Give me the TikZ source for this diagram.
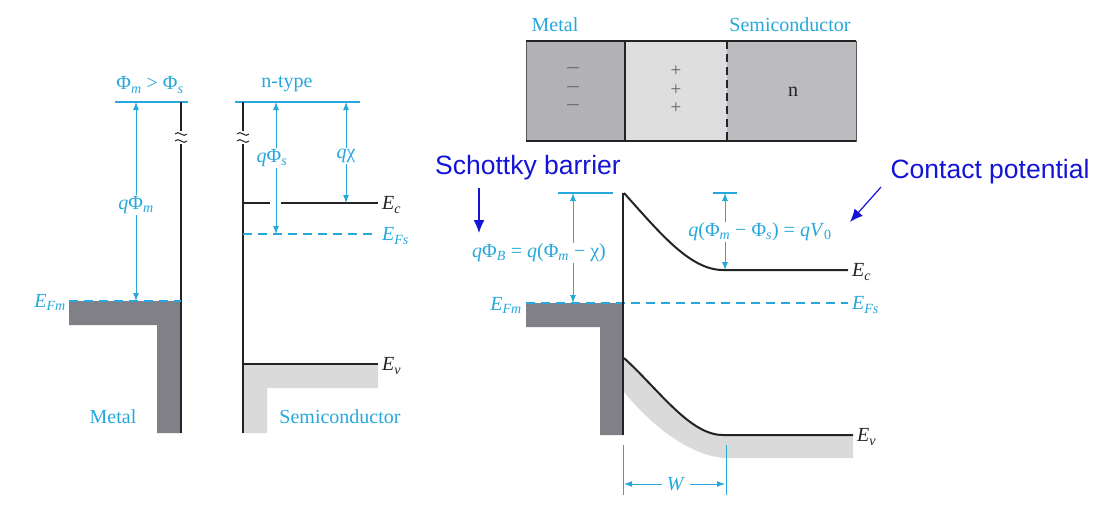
\documentclass[tikz,border=0pt]{standalone}
\usepackage{graphicx}
\usepackage{fontspec}
\setmainfont{Liberation Serif}
\newfontfamily\arialf{Liberation Sans}
\usetikzlibrary{arrows.meta}
\definecolor{cy}{RGB}{38,168,220}
\definecolor{mgray}{RGB}{128,128,134}
\definecolor{sgray}{RGB}{218,218,218}
\definecolor{boxm}{RGB}{178,178,182}
\definecolor{boxd}{RGB}{222,222,222}
\definecolor{boxn}{RGB}{188,188,192}
\definecolor{annb}{RGB}{20,20,215}
\definecolor{lin}{RGB}{35,35,35}
\newcommand{\sbs}[1]{\textsubscript{\textit{#1}}}
\begin{document}
\begin{tikzpicture}[x=1pt,y=-1pt,
 lbl/.style={text=cy,font=\fontsize{20}{24}\selectfont,inner sep=1pt},
 lblw/.style={lbl,fill=white},
 lblk/.style={text=lin,font=\fontsize{20}{24}\selectfont,inner sep=1pt},
 sign/.style={text=gray!75!black,font=\fontsize{19}{22}\selectfont,inner sep=0pt},
 ann/.style={text=annb,font=\arialf\fontsize{26.5}{30}\selectfont,inner sep=0pt},
 lev/.style={cy,line width=1.3pt},
 dim/.style={cy,line width=1pt,{Latex[length=8pt,width=6pt]}-{Latex[length=8pt,width=6pt]}},
 dimone/.style={cy,line width=1pt,-{Latex[length=8pt,width=6pt]}},
 efl/.style={cy,line width=1.3pt,dash pattern=on 9pt off 6pt},
 band/.style={lin,line width=2pt},
 wall/.style={lin,line width=1.2pt},
 annarrow/.style={annb,line width=1.2pt,-{Latex[length=13pt,width=11pt]}},
 brk/.style={lin,line width=1pt},
]
\useasboundingbox (0,0) rectangle (1115,504);

% ================= LEFT: separated metal =================
\fill[mgray] (69,301) -- (181,301) -- (181,433) -- (157,433) -- (157,325) -- (69,325) -- cycle;
\draw[lev] (115,102) -- (188,102);
\node[lbl] (phicmp) at (150,85) {Φ\sbs{m} > Φ\sbs{s}};
\draw[wall] (181,102) -- (181,131);
\draw[wall] (181,144) -- (181,433);
\draw[brk] (175,134) .. controls (178,129) and (184,139) .. (187,134);
\draw[brk] (175,141) .. controls (178,136) and (184,146) .. (187,141);
\coordinate (mvac) at (136,102);
\coordinate (mfermi) at (136,301);
\draw[dim] (mvac) -- (mfermi);
\node[lblw] (qphim) at (136,205) {\textit{q}Φ\sbs{m}};
\draw[efl] (69,301) -- (181,301);
\node[lbl,anchor=east] (efm1) at (67,302) {\textit{E}\sbs{Fm}};
\node[lbl] (metal1) at (113,417) {Metal};

% ================= LEFT: separated semiconductor =================
\fill[sgray] (243,364) -- (378,364) -- (378,388) -- (267,388) -- (267,433) -- (243,433) -- cycle;
\draw[lev] (235,102) -- (360,102);
\node[lbl] (ntype) at (287,84) {n-type};
\draw[wall] (243,102) -- (243,131);
\draw[wall] (243,144) -- (243,433);
\draw[brk] (237,134) .. controls (240,129) and (246,139) .. (249,134);
\draw[brk] (237,141) .. controls (240,136) and (246,146) .. (249,141);
\draw[band] (243,203) -- (270,203);
\draw[band] (281,203) -- (378,203);
\node[lblk,anchor=west] (ec1) at (381,205) {\textit{E}\sbs{c}};
\draw[efl] (243,234) -- (378,234);
\node[lbl,anchor=west] (efs1) at (381,236) {\textit{E}\sbs{Fs}};
\coordinate (svac1) at (276,102);
\coordinate (sfermi) at (276,234);
\draw[dim] (svac1) -- (sfermi);
\node[lblw] (qphis) at (272,158) {\textit{q}Φ\sbs{s}};
\coordinate (svac2) at (346,102);
\coordinate (sec) at (346,203);
\draw[dim] (svac2) -- (sec);
\node[lblw] (qchi) at (346,156) {\textit{q}χ};
\draw[band] (243,364) -- (378,364);
\node[lblk,anchor=west] (ev1) at (381,366) {\textit{E}\sbs{v}};
\node[lbl] (semi1) at (340,417) {Semiconductor};

% ================= RIGHT TOP: junction box =================
\fill[boxm] (526,41) rectangle (625,141);
\fill[boxd] (625,41) rectangle (727,141);
\fill[boxn] (727,41) rectangle (856,141);
\draw[gray!70!black,line width=1pt] (526,41) rectangle (856,141);
\draw[lin,line width=1.8pt] (526,41) -- (856,41);
\draw[lin,line width=1.8pt] (526,141) -- (856,141);
\draw[lin,line width=1.6pt] (625,41) -- (625,141);
\draw[lin,line width=1.6pt,dash pattern=on 8pt off 5pt] (727,41) -- (727,141);
\node[lbl] (metal2) at (555,25) {Metal};
\node[lbl] (semi2) at (790,25) {Semiconductor};
\foreach \yy [count=\i] in {71,90,108} {
  \node[sign] (minus\i) at (573,\yy) {\scalebox{1.35}[1]{−}};
  \node[sign] (plus\i) at (676,\yy) {+};
}
\node[lblk] (nlab) at (793,92) {n};

% ================= RIGHT: band diagram in contact =================
\fill[mgray] (526,303) -- (623,303) -- (623,435) -- (600,435) -- (600,327) -- (526,327) -- cycle;
\fill[sgray] (624,358) .. controls (660,391) and (690,435) .. (723,435) -- (853,435) -- (853,458) -- (728,458)
   .. controls (695,458) and (655,430) .. (624,392) -- cycle;
\draw[efl] (526,303) -- (848,303);
\node[lbl,anchor=east] (efm2) at (523,305) {\textit{E}\sbs{Fm}};
\node[lbl,anchor=west] (efs2) at (851,305) {\textit{E}\sbs{Fs}};
\draw[wall] (623,193) -- (623,435);
\draw[band] (624,193) .. controls (660,233) and (690,270) .. (723,270) -- (848,270);
\node[lblk,anchor=west] (ec2) at (851,272) {\textit{E}\sbs{c}};
\draw[band] (624,358) .. controls (660,391) and (690,435) .. (723,435) -- (853,435);
\node[lblk,anchor=west] (ev2) at (856,437) {\textit{E}\sbs{v}};
% barrier height
\draw[lev] (558,193) -- (613,193);
\coordinate (bt) at (573,193);
\coordinate (bb) at (573,303);
\draw[dim] (bt) -- (bb);
\node[lblw] (qphib) at (539,253) {\textit{q}Φ\textsubscript{\textit{B}} = \textit{q}(Φ\sbs{m} − χ)};
% contact potential
\draw[lev] (713,193) -- (737,193);
\coordinate (vt) at (725,193);
\coordinate (vb) at (725,270);
\draw[dim] (vt) -- (vb);
\node[lblw] (qv0) at (760,232) {\textit{q}(Φ\sbs{m} − Φ\sbs{s}) = \textit{qV}\textsubscript{0}};
% depletion width
\draw[cy,line width=1pt] (623,445) -- (623,495);
\draw[cy,line width=1pt] (726,445) -- (726,495);
\node[lbl] (wlab) at (676,484) {\textit{W}};
\coordinate (wl) at (624,484);
\coordinate (wr) at (725,484);
\draw[dimone] (wlab.west) ++(-4,0) -- (wl);
\draw[dimone] (wlab.east) ++(4,0) -- (wr);

% ================= annotations =================
\node[ann] (schottky) at (528,168) {Schottky barrier};
\coordinate (sa1) at (479,188);
\coordinate (sa2) at (479,233);
\draw[annarrow] (sa1) -- (sa2);
\node[ann] (contact) at (990,172) {Contact potential};
\coordinate (ca1) at (881,187);
\coordinate (ca2) at (850,222);
\draw[annarrow] (ca1) -- (ca2);
\end{tikzpicture}
\end{document}
